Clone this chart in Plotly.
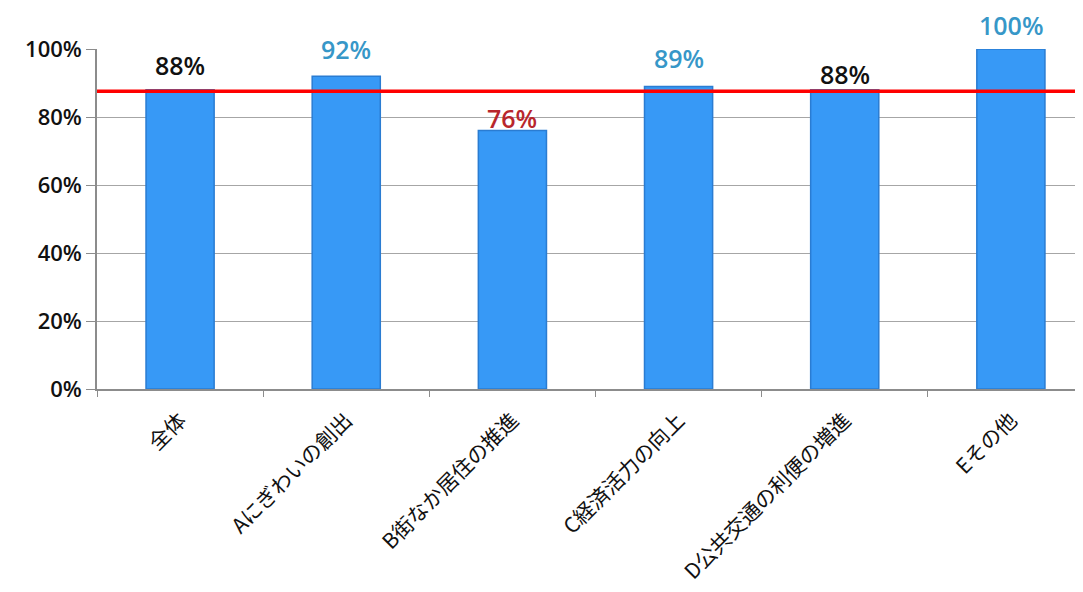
import plotly.graph_objects as go

categories = ["全体", "Aにぎわいの創出", "B街なか居住の推進", "C経済活力の向上", "D公共交通の利便の増進", "Eその他"]
values = [88, 92, 76, 89, 88, 100]
label_texts = ["88%", "92%", "76%", "89%", "88%", "100%"]
reference_value = 87.6
y_ticks = [0, 20, 40, 60, 80, 100]
y_tick_labels = ["0%", "20%", "40%", "60%", "80%", "100%"]

# styling (not data)
label_colors = ["#111111", "#3797c8", "#b8262c", "#3797c8", "#111111", "#3797c8"]
label_offsets_px = [25, 27, 13, 28, 16, 24]

fig = go.Figure()
fig.add_trace(go.Bar(
    x=categories, y=values, width=0.41,
    marker=dict(color="#3799f6", line=dict(color="#2a7cd2", width=1.5)),
    cliponaxis=False, showlegend=False,
))
for cat, val, txt, col, off in zip(categories, values, label_texts, label_colors, label_offsets_px):
    fig.add_annotation(x=cat, y=val, text=txt, showarrow=False, yanchor="middle", yshift=off,
                       font=dict(size=25, color=col, family="Open Sans", weight=600))
fig.add_shape(type="line", xref="paper", x0=0, x1=1, yref="y", y0=reference_value, y1=reference_value,
              line=dict(color="#ff0000", width=3.5))

fig.update_layout(
    width=1075, height=584,
    margin=dict(l=89, r=0, t=41, b=203, autoexpand=False),
    paper_bgcolor="white", plot_bgcolor="white",
    font=dict(family="Noto Sans CJK JP", color="#111111"),
)
fig.update_xaxes(
    range=[-0.5, 5.434], tickangle=-45, tickfont=dict(size=21, family="Noto Sans CJK JP", color="#111111"),
    showline=True, linecolor="#8c8c8c", linewidth=1.5,
    ticks="outside", tickson="boundaries", ticklen=6, tickcolor="#8c8c8c",
    ticklabelstandoff=9,
    showgrid=False, automargin=False,
)
fig.update_yaxes(
    range=[0, 100], tickvals=y_ticks, ticktext=y_tick_labels,
    tickfont=dict(size=22, family="Open Sans", color="#111111", weight=600),
    showline=True, linecolor="#8c8c8c", linewidth=1.5,
    ticks="outside", ticklen=9, tickcolor="#8c8c8c",
    showgrid=True, gridcolor="#a6a6a6", gridwidth=1.2, zeroline=False, automargin=False,
)
fig.write_html("out.html")
